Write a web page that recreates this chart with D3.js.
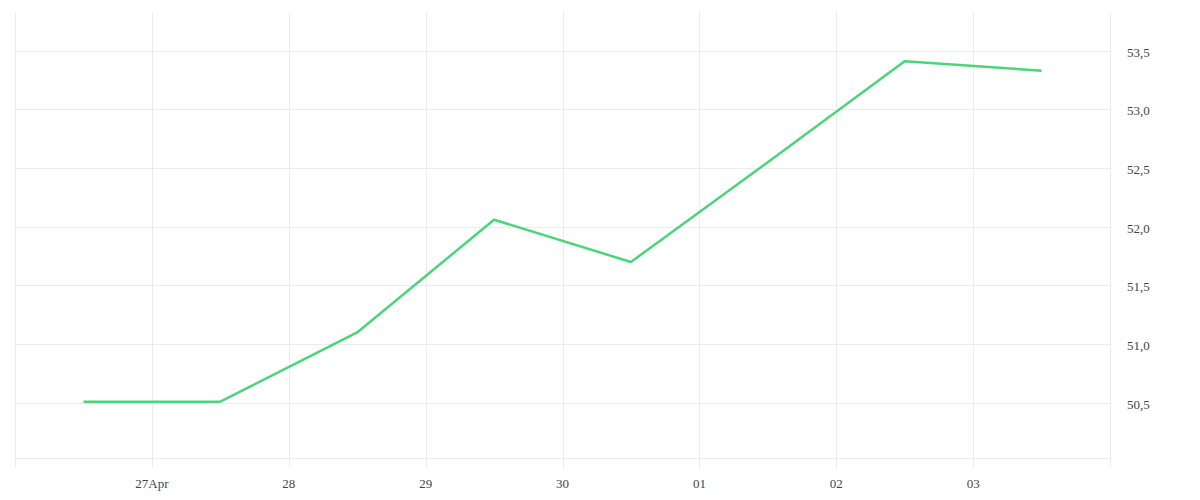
<!DOCTYPE html>
<html><head><meta charset="utf-8">
<script src="https://cdn.jsdelivr.net/npm/d3@7"></script>
<style>body{margin:0;background:#fff}svg{display:block}</style>
</head><body><svg id="c" width="1200" height="500"></svg>
<script>
const dates = ["2024-04-26T12:00","2024-04-27T12:00","2024-04-28T12:00","2024-04-29T12:00","2024-04-30T12:00","2024-05-01T12:00","2024-05-02T12:00","2024-05-03T12:00"];
const values = [50.51, 50.51, 51.10, 52.06, 51.70, 52.55, 53.41, 53.33];
const xTickDates = ["2024-04-27","2024-04-28","2024-04-29","2024-04-30","2024-05-01","2024-05-02","2024-05-03"];
const xTickLabels = ["27Apr","28","29","30","01","02","03"];
const yTicks = [50.5, 51.0, 51.5, 52.0, 52.5, 53.0, 53.5];
const yTickLabels = ["50,5","51,0","51,5","52,0","52,5","53,0","53,5"];

(function(){
const parse = d3.timeParse("%Y-%m-%dT%H:%M");
const parseD = d3.timeParse("%Y-%m-%d");
const data = dates.map((d,i)=>({t:parse(d), v:values[i]}));
const mL=15, mR=1110, mT=12, mB=458;
const x = d3.scaleTime().domain([parseD("2024-04-26"), parseD("2024-05-04")]).range([mL,mR]);
const y = d3.scaleLinear().domain([50.03, 53.83]).range([mB, mT]);
const svg = d3.select("#c");
const font = "'Liberation Serif', serif";
const grid = "#ececec";

svg.append("g").selectAll("line").data(yTicks).join("line")
  .attr("x1",mL).attr("x2",mR)
  .attr("y1",d=>Math.round(y(d))+0.5).attr("y2",d=>Math.round(y(d))+0.5)
  .attr("stroke",grid).attr("stroke-width",1);
svg.append("line").attr("x1",mL).attr("x2",mR).attr("y1",mB+0.5).attr("y2",mB+0.5).attr("stroke",grid);
const vLines = [x.domain()[0], ...xTickDates.map(parseD), x.domain()[1]];
svg.append("g").selectAll("line").data(vLines).join("line")
  .attr("x1",d=>Math.round(x(d))+0.5).attr("x2",d=>Math.round(x(d))+0.5)
  .attr("y1",mT).attr("y2",mB+10)
  .attr("stroke",grid).attr("stroke-width",1);

svg.append("g").selectAll("text").data(xTickDates).join("text")
  .attr("x",d=>x(parseD(d))).attr("y",488)
  .attr("text-anchor","middle").attr("font-family",font).attr("font-size",13).attr("fill","#444")
  .text((d,i)=>xTickLabels[i]);
svg.append("g").selectAll("text").data(yTicks).join("text")
  .attr("x",1127).attr("y",d=>y(d)+6)
  .attr("font-family",font).attr("font-size",13).attr("fill","#444")
  .text((d,i)=>yTickLabels[i]);

svg.append("path").datum(data)
  .attr("d", d3.line().x(d=>x(d.t)).y(d=>y(d.v)))
  .attr("fill","none").attr("stroke","#4cd47b").attr("stroke-width",2.5)
  .attr("stroke-linejoin","round");
})();
</script></body></html>
